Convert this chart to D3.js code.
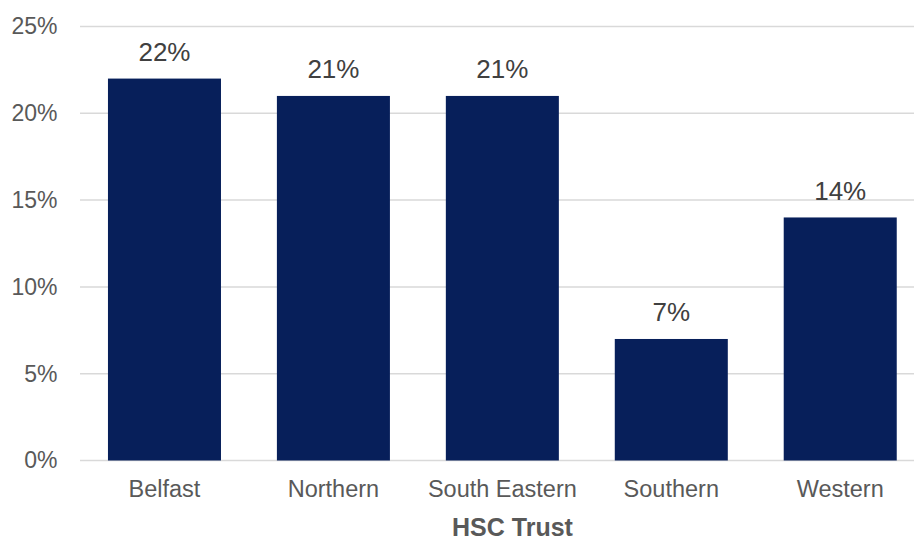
<!DOCTYPE html>
<html>
<head>
<meta charset="utf-8">
<script src="https://cdn.jsdelivr.net/npm/d3@7"></script>
<style>
  html, body { margin: 0; padding: 0; background: #fff; }
  svg { display: block; font-family: "Liberation Sans", Arial, sans-serif; }
</style>
</head>
<body>
<svg id="chart" width="914" height="541"></svg>
<script>
// Share by HSC Trust
const trusts = ["Belfast", "Northern", "South Eastern", "Southern", "Western"];
const shares = [22, 21, 21, 7, 14];
const yTicks = [0, 5, 10, 15, 20, 25];

const svg = d3.select("#chart");
const plotLeft = 80, plotRight = 924.7, plotTop = 26.5, plotBottom = 460.5;

const x = d3.scaleBand().domain(trusts).range([plotLeft, plotRight]).paddingInner(0.331).paddingOuter(0.1655);
const y = d3.scaleLinear().domain([0, 25]).range([plotBottom, plotTop]);

// horizontal gridlines
svg.append("g").selectAll("line").data(yTicks).join("line")
  .attr("x1", plotLeft).attr("x2", 914)
  .attr("y1", d => y(d)).attr("y2", d => y(d))
  .attr("stroke", "#d9d9d9").attr("stroke-width", 1.5);

// y-axis tick labels
const yAxis = d3.axisLeft(y).tickValues(yTicks).tickFormat(d => d + "%").tickSize(0).tickPadding(0);
const yg = svg.append("g").attr("transform", "translate(57.5,0)").call(yAxis);
yg.select(".domain").remove();
yg.selectAll("text").attr("font-size", 23).attr("fill", "#595959")
  .attr("font-family", "Liberation Sans, Arial, sans-serif");

// bars
svg.append("g").selectAll("rect").data(trusts).join("rect")
  .attr("x", d => x(d)).attr("width", x.bandwidth())
  .attr("y", (d, i) => y(shares[i]))
  .attr("height", (d, i) => y(0) - y(shares[i]))
  .attr("fill", "#071f5a");

// value labels
svg.append("g").selectAll("text").data(trusts).join("text")
  .attr("x", d => x(d) + x.bandwidth() / 2)
  .attr("y", (d, i) => y(shares[i]) - 17.5)
  .attr("text-anchor", "middle")
  .attr("font-size", 26).attr("fill", "#404040")
  .text((d, i) => shares[i] + "%");

// category axis
const xAxis = d3.axisBottom(x).tickSize(0).tickPadding(0);
const xg = svg.append("g").attr("transform", "translate(0,497)").call(xAxis);
xg.select(".domain").remove();
xg.selectAll("text").attr("font-size", 23.5).attr("fill", "#595959").attr("dy", 0)
  .attr("font-family", "Liberation Sans, Arial, sans-serif");

// axis title
svg.append("text").attr("x", 512.5).attr("y", 535.5)
  .attr("text-anchor", "middle").attr("font-size", 25).attr("font-weight", "bold")
  .attr("fill", "#595959").text("HSC Trust");
</script>
</body>
</html>
